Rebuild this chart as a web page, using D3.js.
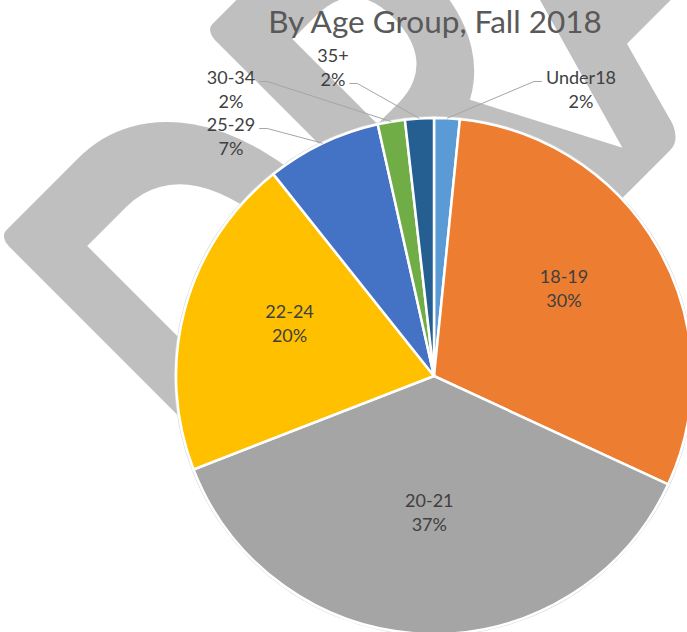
<!DOCTYPE html>
<html>
<head>
<meta charset="utf-8">
<script src="https://cdn.jsdelivr.net/npm/d3@7"></script>
<style>
  html, body { margin: 0; padding: 0; background: #fff; overflow: hidden; }
  text { font-family: Lato, "Open Sans", sans-serif; }
</style>
</head>
<body>
<svg id="chart"></svg>
<script>
// data
const categories = ["Under18", "18-19", "20-21", "22-24", "25-29", "30-34", "35+"];
const shares = [1.6, 30.3, 37.2, 20.2, 7.2, 1.7, 1.8];
const colors = ["#5B9BD5", "#ED7D31", "#A5A5A5", "#FFC000", "#4472C4", "#70AD47", "#255E91"];
const title = "By Age Group, Fall 2018";
const watermark = "DRAFT";

const width = 687;
const height = 632;
const cx = 434, cy = 376, radius = 258;
const lineGap = 24;

// small slices get their label parked outside: [x, first baseline, side, line the leader hooks on]
const outsidePos = {
    "Under18": [581, 83.5, "left", 0],
    "35+": [333, 61.5, "right", 1],
    "30-34": [231, 83.5, "right", 0],
    "25-29": [231, 130.5, "right", 0]
};

let svg = d3.select("#chart")
    .attr("width", width)
    .attr("height", height);

// watermark behind everything
svg.append("text")
    .text(watermark)
    .attr("transform", "translate(264,538) rotate(-45) scale(0.71,1)")
    .attr("font-size", 540)
    .attr("font-weight", 400)
    .attr("fill", "#bfbfbf")
    .attr("stroke", "#bfbfbf")
    .attr("stroke-width", 26)
    .attr("stroke-linejoin", "round");

const data = categories.map((c, i) => ({name: c, value: shares[i], color: colors[i]}));
const total = d3.sum(shares);

const pie = d3.pie().sort(null).value(d => d.value);
const arcs = pie(data);

const arc = d3.arc().innerRadius(0).outerRadius(radius);
const labelArc = d3.arc().innerRadius(radius * 0.58).outerRadius(radius * 0.58);

let g = svg.append("g").attr("transform", `translate(${cx},${cy})`);

g.append("circle")
    .attr("r", radius + 1.5)
    .attr("fill", "none")
    .attr("stroke", "#d9d9d9")
    .attr("stroke-width", 1);

g.selectAll("path.slice")
    .data(arcs)
    .enter()
    .append("path")
    .attr("class", "slice")
    .attr("d", arc)
    .attr("fill", d => d.data.color)
    .attr("stroke", "#fff")
    .attr("stroke-width", 2.5);

function pct(d) {
    return Math.round(d.data.value / total * 100) + "%";
}

// labels inside the big slices
arcs.filter(d => !outsidePos[d.data.name]).forEach(d => {
    const [x, y] = labelArc.centroid(d);
    const t = g.append("text")
        .attr("text-anchor", "middle")
        .attr("font-size", 18)
        .attr("fill", "#404040");
    t.append("tspan").attr("x", x).attr("y", y - 19).text(d.data.name);
    t.append("tspan").attr("x", x).attr("y", y - 19 + lineGap).text(pct(d));
});

// outside labels with leader lines
arcs.filter(d => outsidePos[d.data.name]).forEach(d => {
    const [lx, ly, side, hook] = outsidePos[d.data.name];
    const lines = [d.data.name, pct(d)];
    const spans = lines.map((s, i) => svg.append("text")
        .attr("x", lx)
        .attr("y", ly + i * lineGap)
        .attr("text-anchor", "middle")
        .attr("font-size", 18)
        .attr("fill", "#404040")
        .text(s));

    const w = spans[hook].node().getComputedTextLength();
    const y0 = ly + hook * lineGap - 2;
    const x0 = side == "left" ? lx - w / 2 - 4 : lx + w / 2 + 4;
    const x1 = side == "left" ? x0 - 8 : x0 + 8;
    const mid = (d.startAngle + d.endAngle) / 2;
    const ex = cx + radius * Math.sin(mid);
    const ey = cy - radius * Math.cos(mid);

    svg.append("path")
        .attr("d", d3.line()([[x0, y0], [x1, y0], [ex, ey]]))
        .attr("fill", "none")
        .attr("stroke", "#a6a6a6")
        .attr("stroke-width", 1);
});

svg.append("text")
    .attr("x", 435)
    .attr("y", 33)
    .attr("text-anchor", "middle")
    .attr("font-size", 31.5)
    .attr("fill", "#595959")
    .text(title);
</script>
</body>
</html>
